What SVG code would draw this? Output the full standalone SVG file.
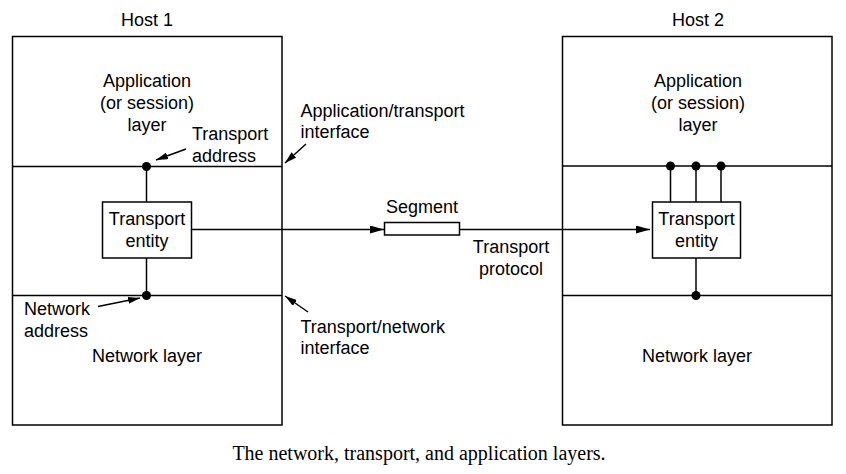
<svg xmlns="http://www.w3.org/2000/svg" width="846" height="474" viewBox="0 0 846 474">
<defs>
<style>
.t{font-family:"Liberation Sans",Arial,sans-serif;font-size:18px;fill:#000}
.m{text-anchor:middle}
.ln{stroke:#000;stroke-width:1.5;fill:none}
.bx{stroke:#000;stroke-width:1.5;fill:#fff}
.dot{fill:#000}
.cap{font-family:"Liberation Serif","Times New Roman",serif;font-size:20px;fill:#000;text-anchor:middle}
</style>
<marker id="ah" markerWidth="14" markerHeight="8" refX="14" refY="4" orient="auto" markerUnits="userSpaceOnUse">
<path d="M0,0 L14,4 L0,8 Z" fill="#000"/>
</marker>
<marker id="sa" markerWidth="12" markerHeight="7" refX="12" refY="3.5" orient="auto" markerUnits="userSpaceOnUse">
<path d="M0,0 L12,3.5 L0,7 Z" fill="#000"/>
</marker>
</defs>
<rect width="846" height="474" fill="#fff"/>

<g id="host1">
<rect class="ln" x="12.5" y="36.5" width="269.5" height="388.5"/>
<line class="ln" x1="12.5" y1="166.5" x2="282" y2="166.5"/>
<line class="ln" x1="12.5" y1="295.5" x2="282" y2="295.5"/>
<text class="t m" x="147" y="26">Host 1</text>
<text class="t m" x="147" y="87">Application</text>
<text class="t m" x="147" y="109">(or session)</text>
<text class="t m" x="147" y="131">layer</text>
<text class="t m" x="147" y="362">Network layer</text>
</g>

<g id="host2">
<rect class="ln" x="562.5" y="36.5" width="269.5" height="388.5"/>
<line class="ln" x1="562.5" y1="166" x2="832" y2="166"/>
<line class="ln" x1="562.5" y1="295.5" x2="832" y2="295.5"/>
<text class="t m" x="698" y="26">Host 2</text>
<text class="t m" x="698" y="87">Application</text>
<text class="t m" x="698" y="109">(or session)</text>
<text class="t m" x="698" y="131">layer</text>
<text class="t m" x="697" y="362">Network layer</text>
</g>

<g id="connectors">
<line class="ln" x1="146.5" y1="166.5" x2="146.5" y2="202"/>
<line class="ln" x1="146.5" y1="258" x2="146.5" y2="295.5"/>
<line class="ln" x1="670.5" y1="166" x2="670.5" y2="202"/>
<line class="ln" x1="696" y1="166" x2="696" y2="202"/>
<line class="ln" x1="721" y1="166" x2="721" y2="202"/>
<line class="ln" x1="696" y1="258" x2="696" y2="295.5"/>
<line class="ln" x1="192" y1="229.5" x2="384" y2="229.5" marker-end="url(#ah)"/>
<line class="ln" x1="460" y1="229.5" x2="650" y2="229.5" marker-end="url(#ah)"/>
<line class="ln" x1="186" y1="149" x2="156" y2="160" marker-end="url(#sa)"/>
<line class="ln" x1="306" y1="144" x2="285" y2="163" marker-end="url(#sa)"/>
<line class="ln" x1="98" y1="306.5" x2="140" y2="298" marker-end="url(#sa)"/>
<line class="ln" x1="308" y1="312" x2="285" y2="296" marker-end="url(#sa)"/>
<circle class="dot" cx="146.5" cy="166.5" r="4.5"/>
<circle class="dot" cx="146.5" cy="295.5" r="4.5"/>
<circle class="dot" cx="670.5" cy="166" r="4.5"/>
<circle class="dot" cx="696" cy="166" r="4.5"/>
<circle class="dot" cx="721" cy="166" r="4.5"/>
<circle class="dot" cx="696" cy="295.5" r="4.5"/>
</g>

<g id="entity1">
<rect class="bx" x="102.5" y="202" width="89" height="56"/>
<text class="t m" x="147" y="225">Transport</text>
<text class="t m" x="147" y="247">entity</text>
</g>

<g id="entity2">
<rect class="bx" x="652.5" y="202" width="88" height="56"/>
<text class="t m" x="696.5" y="225">Transport</text>
<text class="t m" x="696.5" y="247">entity</text>
</g>

<g id="segment">
<rect class="bx" x="384.5" y="222.5" width="75" height="12.5"/>
<text class="t m" x="422" y="213">Segment</text>
</g>

<g id="labels">
<text class="t" x="192" y="140">Transport</text>
<text class="t" x="192" y="162">address</text>
<text class="t" x="300.5" y="117">Application/transport</text>
<text class="t" x="300.5" y="138">interface</text>
<text class="t" x="24" y="315">Network</text>
<text class="t" x="24" y="337">address</text>
<text class="t" x="300.5" y="333">Transport/network</text>
<text class="t" x="300.5" y="354">interface</text>
<text class="t m" x="511" y="253">Transport</text>
<text class="t m" x="511" y="275">protocol</text>
</g>

<text class="cap" x="419" y="460">The network, transport, and application layers.</text>
</svg>
